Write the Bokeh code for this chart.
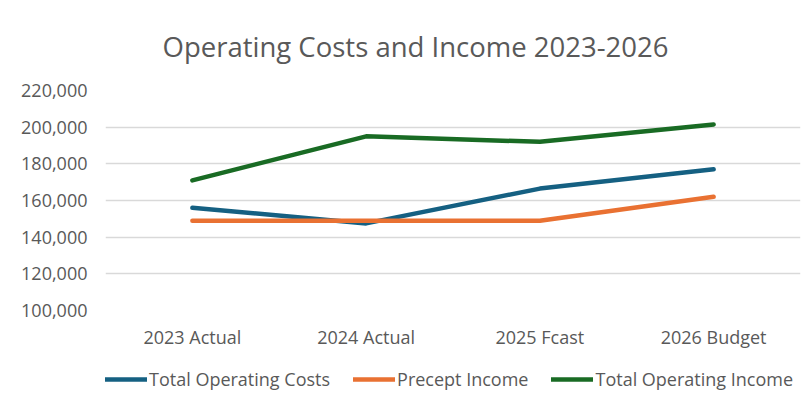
from bokeh.plotting import figure
from bokeh.layouts import column
from bokeh.models import (FactorRange, Range1d, FixedTicker, NumeralTickFormatter,
                          Legend, LegendItem)
from bokeh.embed import file_html
from bokeh.resources import INLINE

categories = ["2023 Actual", "2024 Actual", "2025 Fcast", "2026 Budget"]
total_operating_costs = [156000, 147500, 166500, 177000]
precept_income = [149000, 149000, 149000, 162000]
total_operating_income = [171000, 195000, 192000, 201500]
y_ticks = [100000, 120000, 140000, 160000, 180000, 200000, 220000]
series_names = ["Total Operating Costs", "Precept Income", "Total Operating Income"]
series_colors = ["#156082", "#E97132", "#196B24"]

FONT = "Open Sans"
GREY = "#595959"

series = list(zip(series_names,
                  [total_operating_costs, precept_income, total_operating_income],
                  series_colors))

# main chart
p = figure(width=811, height=351, output_backend="svg", toolbar_location=None,
           x_range=FactorRange(*categories, range_padding=0),
           y_range=Range1d(100000, 220000),
           min_border_left=105, min_border_right=11, min_border_top=89,
           min_border_bottom=40)

p.title.text = "Operating  Costs and Income 2023-2026"
p.title.text_font = FONT
p.title.text_font_size = "27.5px"
p.title.text_font_style = "normal"
p.title.text_color = GREY
p.title.align = "left"
p.title.offset = 57
p.title.standoff = 51

p.outline_line_color = None
p.background_fill_color = "white"
p.border_fill_color = "white"

p.xgrid.grid_line_color = None
p.ygrid.grid_line_color = "#D9D9D9"
p.ygrid.grid_line_width = 1.3

p.yaxis.ticker = FixedTicker(ticks=y_ticks)
p.yaxis.formatter = NumeralTickFormatter(format="0,0")
for ax in (p.xaxis, p.yaxis):
    ax.axis_line_color = None
    ax.major_tick_line_color = None
    ax.minor_tick_line_color = None
    ax.major_tick_out = 0
    ax.major_tick_in = 0
    ax.minor_tick_out = 0
    ax.minor_tick_in = 0
    ax.major_label_text_font = FONT
    ax.major_label_text_font_size = "18px"
    ax.major_label_text_color = GREY
p.yaxis.major_label_standoff = 18
p.xaxis.major_label_standoff = 14

for name, vals, color in series:
    p.line(x=categories, y=vals, line_color=color, line_width=4.5,
           line_cap="round", line_join="round")

# legend strip below the chart
leg = figure(width=811, height=50, output_backend="svg", toolbar_location=None,
             x_range=FactorRange(*categories, range_padding=0),
             y_range=Range1d(0, 1), x_axis_location=None, y_axis_location=None,
             min_border=0)
leg.outline_line_color = None
leg.grid.grid_line_color = None
leg.background_fill_color = "white"
leg.border_fill_color = "white"

items = []
for name, vals, color in series:
    r = leg.line(x=categories, y=vals, line_color=color, line_width=4.5,
                 line_cap="round", line_join="round")
    items.append(LegendItem(label=name, renderers=[r]))

legend = Legend(items=items, orientation="horizontal", location=(0, 10),
                label_text_font=FONT, label_text_font_size="18px",
                label_text_color=GREY, border_line_color=None,
                background_fill_alpha=0, glyph_width=42, label_standoff=2,
                spacing=23, padding=2, margin=0)
leg.add_layout(legend)

layout = column(p, leg, spacing=0)
open("out.html", "w").write(file_html(layout, INLINE))
